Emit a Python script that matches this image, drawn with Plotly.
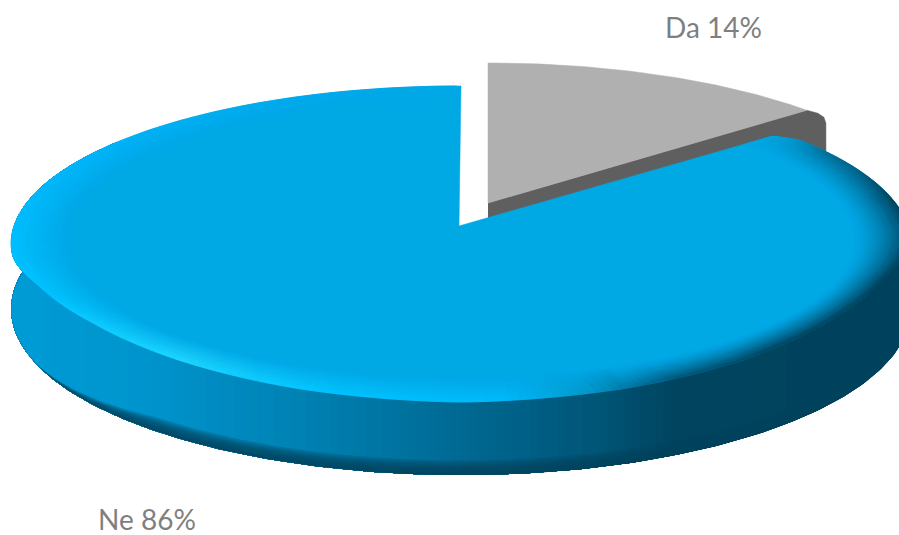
import numpy as np
import plotly.graph_objects as go

# Data
categories = ["Da", "Ne"]
shares = [14, 86]
label_texts = [f"{c} {v}%" for c, v in zip(categories, shares)]

W, H = 899, 535
split_deg = shares[0] / sum(shares) * 360

# Projection of the disc (perspective-like foreshortening)
PERSP = 0.114
K = 156

CX, CY, AX = 461, 226, 447
APEX = (459, 226)
GX, GY, GA = 488, 203, 444
R0 = 0.875

# Rounding of the front rim: how far the rim edge rises above a plain ellipse
lift_a = [90, 100, 115, 130, 145, 160, 180, 200, 215, 230, 244, 250, 258, 270]
lift_v = [5, 15, 20, 14, 7, 3, 0, 3, 7, 12, 13, 9, 2, 0]


def project(theta_deg, r, x0, y0, a):
    th = np.radians(theta_deg)
    u, v = r * np.sin(th), r * np.cos(th)
    d = 1 + PERSP * v
    return x0 + a * u / d, y0 - K * v / d


def rim_project(theta_deg, r):
    x, y = project(theta_deg, r, CX, CY, AX)
    amt = np.clip((np.asarray(r) - R0) / (1 - R0), 0, 1)
    return x, y - np.interp(theta_deg, lift_a, lift_v, left=0, right=0) * amt


def wall_h(theta_deg):
    return 64 - 9 * np.cos(np.radians(theta_deg))


def lerp_table(x, xs, cols):
    return np.array([np.interp(x, xs, [c[i] for c in cols]) for i in range(3)])


BASE = (0, 167, 229)
GRAY_TOP = "#b0b0b0"
GRAY_WALL = "#5f5f5f"

wall_x = [11, 150, 300, 400, 500, 600, 680, 899]
wall_c = [(0, 155, 213), (0, 148, 205), (0, 130, 180), (0, 115, 160),
          (0, 100, 140), (0, 85, 118), (0, 68, 96), (0, 66, 93)]

edge_a = [50, 60, 80, 140, 155, 165, 175, 195, 215, 240, 270, 300, 330, 360]
edge_c = [BASE, (0, 110, 150), (0, 66, 93), (0, 66, 93), (0, 85, 120), (0, 150, 200),
          (0, 185, 250), (0, 195, 255), (30, 215, 255), (0, 195, 255), (0, 190, 255),
          (0, 180, 250), (0, 172, 238), BASE]


def rim_r(theta):
    return 1 - 0.035 * max(0.0, 1 - (theta - split_deg) / 5) ** 2


def hexc(c):
    q = np.clip(np.round(np.asarray(c) / 2) * 2, 0, 255).astype(int)
    return "#%02x%02x%02x" % tuple(q)


def poly(fig, xs, ys, col, lw=0.5, line=True):
    fig.add_trace(go.Scatter(x=list(xs), y=list(ys), mode="lines", fill="toself", fillcolor=col,
                             line=dict(color=col, width=lw if line else 0), hoverinfo="skip",
                             showlegend=False))


fig = go.Figure()

# Gray slice ("Da"): side face, then top
ga = np.linspace(0, split_deg, 60)
gx, gy = project(ga, 1.0, GX, GY, GA)
cx_, cy_ = gx[-1], gy[-1]
poly(fig, [GX, cx_, cx_ + 11, cx_ + 17, cx_ + 19, cx_ + 19, GX],
     [GY, cy_, cy_ + 3, cy_ + 7, cy_ + 13, cy_ + 60, GY + 60], GRAY_WALL)
poly(fig, [GX] + list(gx) + [GX], [GY] + list(gy) + [GY], GRAY_TOP)

# Blue slice ("Ne"): side wall, painted from the right to the left so no seams appear
wall_angles = np.arange(60, 306, 1.0)
wx, wy = project(wall_angles, 1, CX, CY, AX)
_, wtop = rim_project(wall_angles, np.ones_like(wall_angles))
wh = wall_h(wall_angles)
last = None
for i in range(len(wall_angles) - 1):
    col = hexc(lerp_table(wx[i], wall_x, wall_c))
    if col == last:
        continue
    last = col
    xs = np.concatenate([wx[i:], wx[i:][::-1]])
    ys = np.concatenate([wtop[i:], (wy + wh)[i:][::-1]])
    poly(fig, xs, ys, col, line=False)

# Darkening towards the lower edge of the wall, tapering out at the far left
edge_strength = np.clip((wx - 35) / 120, 0, 1)
N_LAYERS = 7
for j in range(N_LAYERS):
    thick = wh * 0.2 * edge_strength * (1 - j / N_LAYERS)
    xs = np.concatenate([wx, wx[::-1]])
    ys = np.concatenate([wy + wh - thick, (wy + wh)[::-1]])
    c = "rgba(0,66,93,0.27)"
    fig.add_trace(go.Scatter(x=list(xs), y=list(ys), mode="lines", fill="toself", fillcolor=c,
                             line=dict(width=0), hoverinfo="skip", showlegend=False))

# Blue top face
ta = np.linspace(split_deg, 360, 400)
rr = np.array([rim_r(t) for t in ta])
tx, ty = rim_project(ta, rr)
poly(fig, [APEX[0]] + list(tx) + [APEX[0]], [APEX[1]] + list(ty) + [APEX[1]], hexc(BASE))

# Bevel ring on the blue top face
bins = {}
ts = np.linspace(0, 1, 21)
bev = np.arange(split_deg, 360.01, 1.0)
for a0, a1 in zip(bev[:-1], bev[1:]):
    am = (a0 + a1) / 2
    edge = lerp_table(am, edge_a, edge_c)
    r_a0, r_a1 = rim_r(a0), rim_r(a1)
    power = 1.4 if am < 160 else 0.95
    for t0, t1 in zip(ts[:-1], ts[1:]):
        tm = (t0 + t1) / 2
        f = tm ** power
        col = hexc(np.array(BASE) * (1 - f) + edge * f)
        p = [rim_project(a0, R0 + (r_a0 - R0) * t0),
             rim_project(a1, R0 + (r_a1 - R0) * t0),
             rim_project(a1, R0 + (r_a1 - R0) * t1),
             rim_project(a0, R0 + (r_a0 - R0) * t1)]
        b = bins.setdefault(col, ([], []))
        b[0].extend([float(q[0]) for q in p] + [None])
        b[1].extend([float(q[1]) for q in p] + [None])
for col, (xs, ys) in bins.items():
    poly(fig, xs, ys, col, lw=0.8)

label_pos = [(713, 27), (147, 519)]
for txt, (lx, ly) in zip(label_texts, label_pos):
    fig.add_annotation(x=lx, y=ly, text=txt, showarrow=False, xref="x", yref="y",
                       font=dict(family="Lato", size=28, color="#7f7f7f"))

fig.update_layout(
    width=W, height=H, margin=dict(l=0, r=0, t=0, b=0),
    paper_bgcolor="white", plot_bgcolor="white", showlegend=False,
    xaxis=dict(range=[0, W], visible=False, fixedrange=True),
    yaxis=dict(range=[H, 0], visible=False, fixedrange=True),
)
fig.write_html("out.html", config={"displayModeBar": False},
               post_script="document.body.style.margin='0';document.documentElement.style.overflow='hidden';")
